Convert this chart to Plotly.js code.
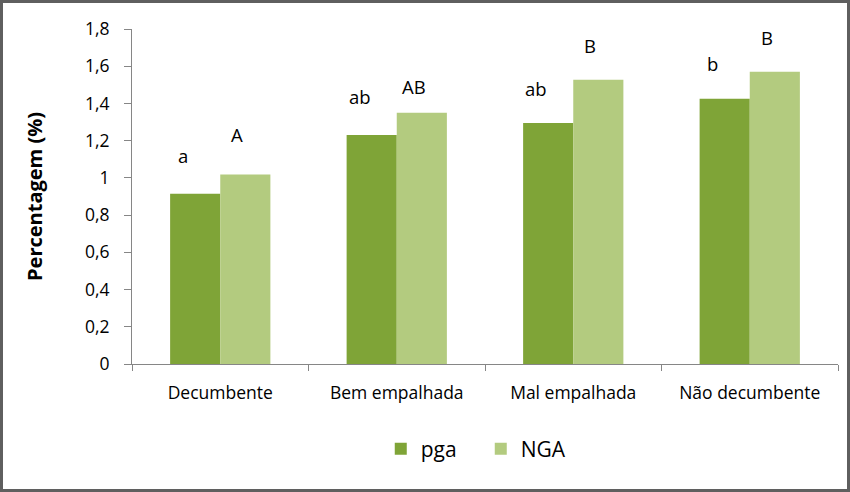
<!DOCTYPE html>
<html><head><meta charset="utf-8">
<script src="https://cdn.plot.ly/plotly-3.0.1.min.js"></script>
<style>html,body{margin:0;padding:0;background:#fff}#wrap{position:relative;width:850px;height:492px}#chart{width:850px;height:492px}#frame{position:absolute;left:0;top:0;width:850px;height:492px;box-sizing:border-box;border:3px solid #5f5f5f;pointer-events:none}</style>
</head><body>
<div id="wrap"><div id="chart"></div><div id="frame"></div></div>
<script>
const categories = ["Decumbente", "Bem empalhada", "Mal empalhada", "Não decumbente"];
const pgaValues = [0.915, 1.23, 1.295, 1.425];
const ngaValues = [1.018, 1.35, 1.527, 1.57];
const pgaLetters = ["a", "ab", "ab", "b"];
const ngaLetters = ["A", "AB", "B", "B"];
const pgaLetterY = [1.12, 1.44, 1.48, 1.615];
const ngaLetterY = [1.235, 1.49, 1.71, 1.752];
const yTicks = [0, 0.2, 0.4, 0.6, 0.8, 1, 1.2, 1.4, 1.6, 1.8];

const FONT = "'Open Sans', Lato, sans-serif";
const traces = [
  {type: "bar", name: "pga", x: categories, y: pgaValues, marker: {color: "#7FA437"}},
  {type: "bar", name: "NGA", x: categories, y: ngaValues, marker: {color: "#B3CB7F"}}
];
const annotations = [];
categories.forEach((c, i) => {
  annotations.push({x: c, y: pgaLetterY[i], text: pgaLetters[i], showarrow: false, xshift: -37, font: {size: 18.5, color: "#000", family: FONT}});
  annotations.push({x: c, y: ngaLetterY[i], text: ngaLetters[i], showarrow: false, xshift: 17, font: {size: 18.5, color: "#000", family: FONT}});
});
const layout = {
  width: 850, height: 492,
  margin: {l: 132, r: 12, t: 29, b: 128},
  paper_bgcolor: "#fff", plot_bgcolor: "#fff",
  separators: ",.",
  barmode: "group", bargap: 0.432, bargroupgap: 0,
  font: {family: FONT, color: "#000", size: 17},
  xaxis: {
    type: "category", automargin: false, showline: true, linecolor: "#868686", linewidth: 1,
    ticks: "outside", tickson: "boundaries", ticklen: 6, tickcolor: "#868686",
    ticklabelstandoff: 13,
    tickfont: {size: 17.5, family: FONT}, showgrid: false, zeroline: false
  },
  yaxis: {
    range: [0, 1.8], tickvals: yTicks, automargin: false, showline: true, linecolor: "#868686", linewidth: 1,
    ticks: "outside", ticklen: 7, tickcolor: "#868686", showgrid: false, zeroline: false,
    ticklabelstandoff: 11,
    tickfont: {size: 17.5, family: FONT},
    title: {text: "<b>Percentagem (%)</b>", font: {size: 20, family: FONT}, standoff: 36}
  },
  legend: {orientation: "h", x: 0.494, xanchor: "center", y: -0.254, yanchor: "middle", font: {size: 21, family: FONT}, itemwidth: 30, entrywidth: 55, entrywidthmode: "pixels", tracegroupgap: 0},
  annotations: annotations,
  showlegend: true
};
Plotly.newPlot("chart", traces, layout, {displayModeBar: false, staticPlot: true});
</script>
</body></html>
